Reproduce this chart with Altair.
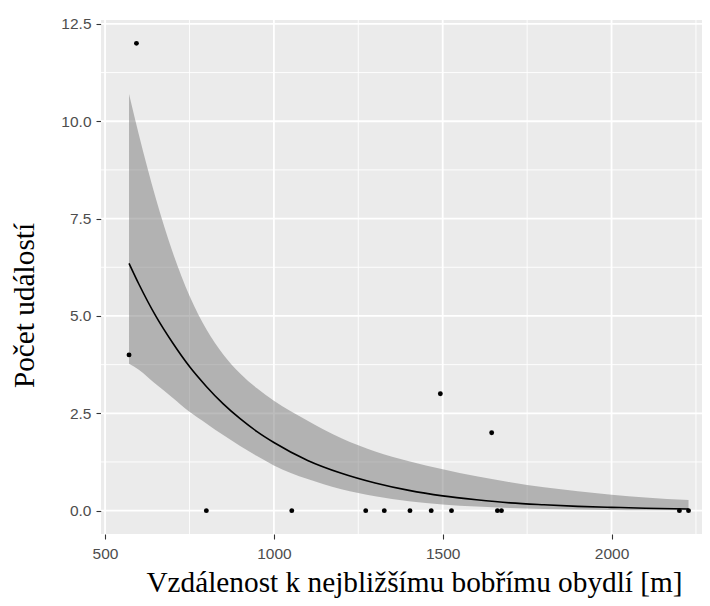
import altair as alt
import pandas as pd

# scatter points (distance in m, number of events)
pt_x = [571, 593, 800, 1053, 1272, 1327, 1403, 1466, 1493, 1526, 1645, 1662, 1674, 2201, 2228]
pt_y = [4, 12, 0, 0, 0, 0, 0, 0, 3, 0, 2, 0, 0, 0, 0]

# fitted curve and its confidence band
fit_x = [571, 600, 650, 700, 750, 800, 850, 900, 950, 1000, 1100, 1200, 1300, 1400, 1500,
         1600, 1700, 1800, 1900, 2000, 2100, 2228]
fit_y = [6.35, 5.82, 5.0, 4.31, 3.7, 3.19, 2.74, 2.36, 2.03, 1.75, 1.29, 0.96, 0.71, 0.52, 0.38,
         0.28, 0.2, 0.15, 0.11, 0.085, 0.063, 0.043]
fit_lo = [3.77, 3.62, 3.25, 2.9, 2.54, 2.24, 1.94, 1.66, 1.4, 1.16, 0.81, 0.55, 0.37, 0.24, 0.16,
          0.106, 0.068, 0.045, 0.029, 0.019, 0.013, 0.007]
fit_hi = [10.7, 9.66, 8.03, 6.64, 5.52, 4.66, 4.01, 3.52, 3.14, 2.82, 2.31, 1.86, 1.52, 1.27, 1.06,
          0.88, 0.73, 0.6, 0.5, 0.41, 0.34, 0.27]

x_major = [500, 1000, 1500, 2000]
x_minor = [750, 1250, 1750, 2250]
y_major = [0, 2.5, 5, 7.5, 10, 12.5]
y_minor = [1.25, 3.75, 6.25, 8.75, 11.25]

x_domain = [488, 2267.9]
y_domain = [-0.6, 12.6]

pts = pd.DataFrame({"x": pt_x, "y": pt_y})
fit = pd.DataFrame({"x": fit_x, "y": fit_y, "lo": fit_lo, "hi": fit_hi})

xs = alt.Scale(domain=x_domain, nice=False, zero=False)
ys = alt.Scale(domain=y_domain, nice=False, zero=False)

x_axis = alt.Axis(
    values=x_major, format="d", grid=False, domain=False,
    tickColor="#333333", tickSize=5, tickWidth=1.1,
    labelFont="Liberation Sans", labelFontSize=15.5, labelColor="#4D4D4D",
    labelPadding=7, labelFlush=False, labelOverlap=False,
    title="Vzdálenost k nejbližšímu bobřímu obydlí [m]",
    titleFont="Liberation Serif", titleFontSize=29.3, titleFontWeight="normal",
    titleColor="black", titleBaseline="alphabetic", titleAlign="center",
    titleX=313, titleY=57,
)
y_axis = alt.Axis(
    values=y_major, format=".1f", grid=False, domain=False,
    tickColor="#333333", tickSize=5, tickWidth=1.1,
    labelFont="Liberation Sans", labelFontSize=15.5, labelColor="#4D4D4D",
    labelPadding=5, labelFlush=False, labelOverlap=False,
    title="Počet událostí",
    titleFont="Liberation Serif", titleFontSize=29.3, titleFontWeight="normal",
    titleColor="black", titleBaseline="alphabetic", titleAlign="center",
    titleAngle=270, titleX=-68, titleY=285,
)

gx_minor = alt.Chart(pd.DataFrame({"v": x_minor})).mark_rule(color="white", strokeWidth=0.9).encode(
    x=alt.X("v:Q", scale=xs, axis=x_axis))
gy_minor = alt.Chart(pd.DataFrame({"v": y_minor})).mark_rule(color="white", strokeWidth=0.9).encode(
    y=alt.Y("v:Q", scale=ys, axis=y_axis))
gx_major = alt.Chart(pd.DataFrame({"v": x_major})).mark_rule(color="white", strokeWidth=1.8).encode(
    x=alt.X("v:Q", scale=xs, axis=x_axis))
gy_major = alt.Chart(pd.DataFrame({"v": y_major})).mark_rule(color="white", strokeWidth=1.8).encode(
    y=alt.Y("v:Q", scale=ys, axis=y_axis))

band = alt.Chart(fit).mark_area(color="#7A7A7A", opacity=0.5, interpolate="monotone").encode(
    x=alt.X("x:Q", scale=xs, axis=x_axis),
    y=alt.Y("lo:Q", scale=ys, axis=y_axis),
    y2="hi:Q",
)
line = alt.Chart(fit).mark_line(color="black", strokeWidth=1.6, interpolate="monotone").encode(
    x=alt.X("x:Q", scale=xs, axis=x_axis),
    y=alt.Y("y:Q", scale=ys, axis=y_axis),
)
points = alt.Chart(pts).mark_circle(color="black", size=24, opacity=1).encode(
    x=alt.X("x:Q", scale=xs, axis=x_axis),
    y=alt.Y("y:Q", scale=ys, axis=y_axis),
)

chart = alt.layer(gx_minor, gy_minor, gx_major, gy_major, band, line, points).properties(
    width=601, height=514,
    autosize=alt.AutoSizeParams(type="none"),
    padding={"left": 93, "top": 12, "right": 0, "bottom": 64},
    background="white",
).configure_view(fill="#EBEBEB", stroke=None)

chart.save("out.html", embed_options={"renderer": "svg", "actions": False})
